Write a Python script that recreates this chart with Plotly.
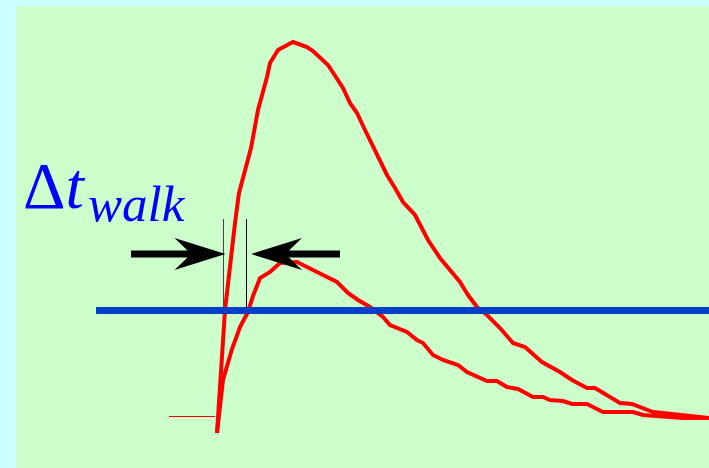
import plotly.graph_objects as go

# Pulse shapes: time (arbitrary units) and amplitude above baseline (a.u.)
t_large = [217, 225, 235, 239, 251, 258, 267, 270, 278, 293, 307, 313, 328, 343, 350,
           357, 365, 373, 380, 387, 395, 403, 415, 428, 440, 452, 460, 468, 477, 487,
           500, 513, 525, 542, 560, 572, 587, 595, 620, 632, 653, 663, 697, 709]
v_large = [-16, 107, 194, 224, 269, 307, 340, 354, 367, 375, 370, 366, 352, 329, 314,
           304, 287, 270, 257, 242, 229, 215, 202, 177, 159, 144, 135, 122, 110, 102,
           89, 74, 70, 55, 45, 37, 29, 29, 14, 13, 5, 4, 1, -1]

t_small = [217, 223, 232, 240, 248, 253, 260, 270, 280, 297, 317, 337, 348, 358, 370,
           383, 390, 407, 417, 423, 433, 443, 458, 467, 487, 497, 507, 518, 533, 543,
           550, 563, 572, 587, 603, 633, 643, 683, 709]
v_small = [-16, 37, 68, 90, 105, 121, 139, 145, 154, 155, 145, 135, 124, 117, 110,
           100, 92, 85, 77, 74, 62, 57, 52, 45, 36, 36, 30, 28, 20, 20,
           17, 16, 13, 13, 5, 5, 2, -1, -1]

baseline_t = [169, 215]
threshold = 106.5
threshold_t = [96, 709]

# Times at which the two pulses are marked on the threshold
mark_t = [223.5, 246.5]
mark_top = 198
mark_colors = ["#444444", "#000000"]

arrow_level = 163

RED = "#ff0000"
BLUE = "#0040c8"

fig = go.Figure()

fig.add_trace(go.Scatter(x=baseline_t, y=[0.5, 0.5], mode="lines",
                         line=dict(color=RED, width=1), hoverinfo="skip"))
fig.add_trace(go.Scatter(x=t_large, y=v_large, mode="lines",
                         line=dict(color=RED, width=4), hoverinfo="skip"))
fig.add_trace(go.Scatter(x=t_small, y=v_small, mode="lines",
                         line=dict(color=RED, width=4), hoverinfo="skip"))
fig.add_trace(go.Scatter(x=threshold_t, y=[threshold, threshold], mode="lines",
                         line=dict(color=BLUE, width=7), hoverinfo="skip"))

for t, c in zip(mark_t, mark_colors):
    fig.add_trace(go.Scatter(x=[t, t], y=[mark_top, threshold + 3], mode="lines",
                             line=dict(color=c, width=1), hoverinfo="skip"))


def stealth_arrow(tip, tail, y, head_len=51, half=16, notch=38, shaft=3.5):
    d = 1 if tip > tail else -1
    back = tip - d * head_len
    nx = tip - d * notch
    pts = [(tail, y - shaft), (nx, y - shaft), (back, y - half), (tip, y),
           (back, y + half), (nx, y + shaft), (tail, y + shaft)]
    return "M " + " L ".join(f"{px},{py}" for px, py in pts) + " Z"


arrows = [(mark_t[0] + 2, 131), (mark_t[1] + 4.5, 340)]
for tip, tail in arrows:
    fig.add_shape(type="path", path=stealth_arrow(tip, tail, arrow_level),
                  xref="x", yref="y", fillcolor="black", line=dict(width=0))

fig.add_annotation(x=21, y=193, xref="x", yref="y", text="Δ<i>t</i>",
                   showarrow=False, xanchor="left", yanchor="bottom",
                   font=dict(family="Liberation Serif", size=66, color="#0000ff"))
fig.add_annotation(x=86, y=183, xref="x", yref="y", text="<i>walk</i>",
                   showarrow=False, xanchor="left", yanchor="bottom",
                   font=dict(family="Liberation Serif", size=51, color="#0000ff"))

fig.update_layout(
    width=709, height=468,
    margin=dict(l=16, r=0, t=6, b=0),
    paper_bgcolor="#ccffff",
    plot_bgcolor="#ccffcc",
    showlegend=False,
    xaxis=dict(range=[16, 709], visible=False, fixedrange=True),
    yaxis=dict(range=[-51, 411], visible=False, fixedrange=True),
)

fig.write_html("out.html")
